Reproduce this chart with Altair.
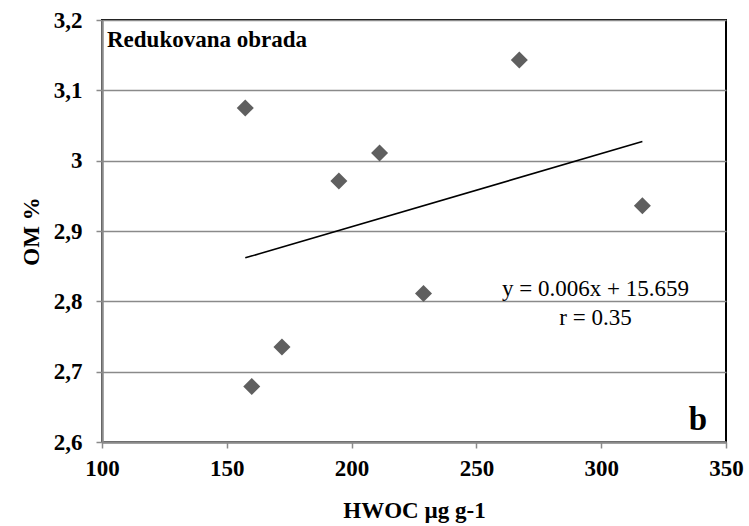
import altair as alt
import pandas as pd

# Data
hwoc = [157.4, 194.9, 211.2, 267.2, 316.5, 228.8, 172.1, 160.0]
om = [3.075, 2.971, 3.011, 3.143, 2.936, 2.811, 2.735, 2.679]
y_ticks = [2.6, 2.7, 2.8, 2.9, 3.0, 3.1, 3.2]
x_ticks = [100, 150, 200, 250, 300, 350]
panel_title = "Redukovana obrada"
equation = "y = 0.006x + 15.659"
r_text = "r = 0.35"
panel_letter = "b"

df = pd.DataFrame({"hwoc": hwoc, "om": om})

FONT = "Liberation Serif"
W, H = 624, 422

x_enc = alt.X(
    "hwoc:Q",
    scale=alt.Scale(domain=[100, 350], nice=False, zero=False),
    axis=alt.Axis(
        values=x_ticks, title="HWOC µg g-1", grid=False, labelFlush=False,
        titleX=W / 2, titleY=75, titleBaseline="alphabetic", titleAlign="center",
    ),
)
y_enc = alt.Y(
    "om:Q",
    scale=alt.Scale(domain=[2.6, 3.2], nice=False, zero=False),
    axis=alt.Axis(
        values=y_ticks, title="OM %", grid=True, labelFlush=False,
        labelExpr="replace(format(datum.value, '.1~f'), '.', ',')",
        titleX=-64, titleY=H / 2, titleAngle=-90, titleBaseline="alphabetic",
        titleAlign="center",
    ),
)

points = alt.Chart(df).mark_point(
    shape="diamond", filled=True, color="#5f5f5f", size=290, opacity=1
).encode(x=x_enc, y=y_enc)

trend = alt.Chart(df).transform_regression("hwoc", "om").mark_line(
    color="black", strokeWidth=1.6
).encode(x="hwoc:Q", y="om:Q")

t_panel = alt.Chart(pd.DataFrame({"t": [panel_title]})).mark_text(
    font=FONT, fontSize=23, fontWeight="bold", align="left", baseline="alphabetic", color="black"
).encode(text="t:N", x=alt.value(5), y=alt.value(27))

t_eq = alt.Chart(pd.DataFrame({"t": [equation]})).mark_text(
    font=FONT, fontSize=23, align="center", baseline="alphabetic", color="black"
).encode(text="t:N", x=alt.value(493.5), y=alt.value(276))

t_r = alt.Chart(pd.DataFrame({"t": [r_text]})).mark_text(
    font=FONT, fontSize=23, align="center", baseline="alphabetic", color="black"
).encode(text="t:N", x=alt.value(493.5), y=alt.value(305))

t_b = alt.Chart(pd.DataFrame({"t": [panel_letter]})).mark_text(
    font=FONT, fontSize=33, fontWeight="bold", align="center", baseline="alphabetic", color="black"
).encode(text="t:N", x=alt.value(596), y=alt.value(410))

chart = alt.layer(points, trend, t_panel, t_eq, t_r, t_b).properties(
    width=W, height=H,
    autosize=alt.AutoSizeParams(type="none"),
    padding={"left": 102, "top": 20, "right": 23, "bottom": 84},
    background="white",
).configure_view(
    stroke="black", strokeWidth=2
).configure_axis(
    labelFont=FONT, labelFontSize=23, labelFontWeight="bold", labelColor="black",
    titleFont=FONT, titleFontSize=23, titleFontWeight="bold", titleColor="black",
    domainColor="#8a8a8a", domainWidth=2.5, tickColor="#8a8a8a", tickWidth=1.5,
    tickSize=6, gridColor="#8a8a8a", gridWidth=1.5,
).configure_axisY(
    labelPadding=14,
).configure_axisX(
    labelPadding=9,
)

chart.save("out.html", embed_options={"renderer": "svg", "actions": False})
